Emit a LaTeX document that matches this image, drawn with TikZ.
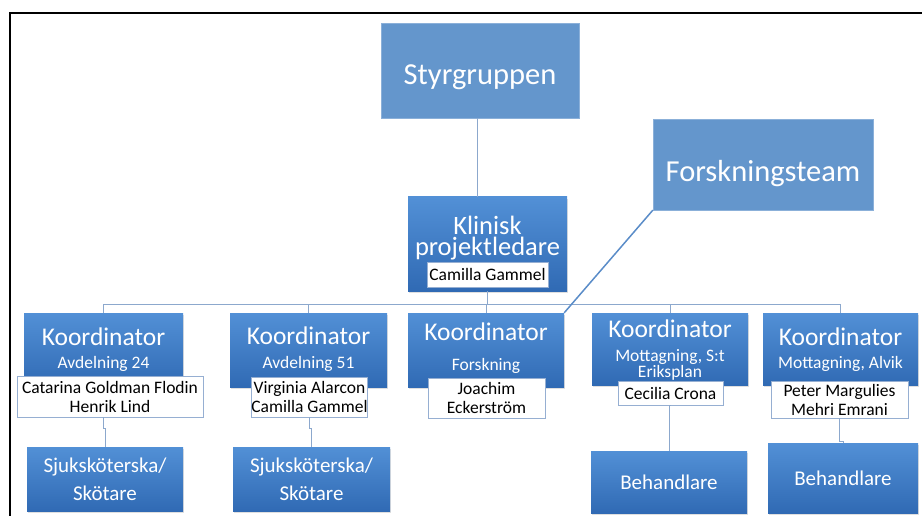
\documentclass[tikz,border=0pt]{standalone}
\usepackage{fontspec}
\setmainfont{Carlito}
\usetikzlibrary{positioning,calc,shadows}
\definecolor{flatblue}{RGB}{100,150,204}
\definecolor{ktop}{RGB}{82,144,214}
\definecolor{kbot}{RGB}{48,106,180}
\definecolor{linkgray}{RGB}{140,168,205}
\definecolor{namegray}{RGB}{150,175,210}
\definecolor{tailblue}{RGB}{90,140,200}

\begin{document}
\begin{tikzpicture}[x=1pt,y=-1pt,
  flatbox/.style={rectangle, fill=flatblue, draw=flatblue!75!white, text=white, align=center,
    text depth=0pt, font=\fontsize{30.5}{36}\selectfont},
  kbox/.style={rectangle, top color=ktop, bottom color=kbot, draw=none, text=white, align=center,
    minimum width=157pt, minimum height=74pt, inner sep=0pt,
    drop shadow={opacity=0.25, shadow xshift=1pt, shadow yshift=-2pt},
    font=\fontsize{25.5}{28}\selectfont},
  ktitle/.style={text=white, inner sep=0pt, anchor=base, font=\fontsize{25.5}{28}\selectfont},
  kdept/.style={text=white, inner sep=0pt, anchor=base, align=center, font=\fontsize{17.5}{16}\selectfont},
  namebox/.style={rectangle, fill=white, draw=namegray, line width=0.8pt, align=center, inner sep=0pt,
    font=\fontsize{17.5}{19}\selectfont},
  subbox/.style={kbox, minimum height=64pt, font=\fontsize{21}{28}\selectfont},
  link/.style={draw=linkgray, line width=1pt}
]
  \useasboundingbox (0,0) rectangle (922,516);
  % frame of the screenshot
  \draw[line width=1.7pt] (10,516) -- (10,13) -- (922,13);

  % top level
  \node[flatbox, minimum width=198pt, minimum height=95pt, text height=29pt] (SG) at (480,70.5) {Styrgruppen};
  \node[flatbox, minimum width=220pt, minimum height=91pt, text height=34pt] (FT) at (763,164.5) {Forskningsteam};
  \node[kbox, minimum width=159pt, minimum height=94pt] (KL) at (487.5,244) {};
  \node[text=white, align=center, inner sep=0pt, font=\fontsize{26.5}{21.5}\selectfont] (KLt) at (487.5,238) {Klinisk\\projektledare};
  \node[namebox, minimum width=121pt, minimum height=25pt] (KLn) at (487.5,274.5) {Camilla Gammel};

  % koordinators
  \node[kbox, minimum width=159pt] (K1) at (103.5,350) {};
  \node[kbox] (K2) at (308.5,350) {};
  \node[kbox, minimum width=156pt] (K3) at (486,350) {};
  \node[kbox, minimum width=156pt, minimum height=72pt] (K4) at (670,349) {};
  \node[kbox, minimum width=155pt, minimum height=72pt] (K5) at (840.5,349) {};

  \node[ktitle] (K1t) at (103.5,345) {Koordinator};
  \node[kdept] (K1d) at (103.5,368) {Avdelning 24};
  \node[ktitle] (K2t) at (308.5,344.5) {Koordinator};
  \node[kdept] (K2d) at (308.5,368.5) {Avdelning 51};
  \node[ktitle] (K3t) at (486,340.5) {Koordinator};
  \node[kdept] (K3d) at (486,370.5) {Forskning};
  \node[ktitle] (K4t) at (670,337) {Koordinator};
  \node[kdept] (K4d) at (670,377.5) {Mottagning, S:t\\Eriksplan};
  \node[ktitle] (K5t) at (840.5,345) {Koordinator};
  \node[kdept] (K5d) at (840.5,368.5) {Mottagning, Alvik};

  % names
  \node[namebox, minimum width=186pt, minimum height=41pt] (N1) at (110,396.5) {Catarina Goldman Flodin\\Henrik Lind};
  \node[namebox, minimum width=115pt, minimum height=40pt] (N2) at (309.5,397) {Virginia Alarcon\\Camilla Gammel};
  \node[namebox, minimum width=117pt, minimum height=40pt] (N3) at (486.5,398) {Joachim\\Eckerström};
  \node[namebox, minimum width=105pt, minimum height=24pt] (N4) at (670.5,393) {Cecilia Crona};
  \node[namebox, minimum width=137pt, minimum height=37pt] (N5) at (839.5,399.5) {Peter Margulies\\Mehri Emrani};

  % staff
  \node[subbox, minimum width=156pt] (S1) at (105,479) {Sjuksköterska/\\Skötare};
  \node[subbox] (S2) at (311.5,479) {Sjuksköterska/\\Skötare};
  \node[subbox, minimum width=156pt, minimum height=62pt] (B4) at (669,482) {Behandlare};
  \node[subbox, minimum width=150pt, minimum height=70pt] (B5) at (843,478) {Behandlare};

  % connectors
  \coordinate (bus) at (0,304);
  \draw[link] ([xshift=-3pt]SG.south) -- ([xshift=-3pt]SG.south |- KL.north);
  \draw[link] (KL.south) -- (KL.south |- bus);
  \draw[link] (K1.north |- bus) -- (K5.north |- bus);
  \foreach \k in {K1,K2,K3,K4,K5}
    \draw[link] (\k.north |- bus) -- (\k.north);
  \draw[link] (K1.center |- N1.south) -- ++(0,11) -| (S1.north);
  \draw[link] (N2.south) -- ++(0,11) -| (S2.north);
  \draw[link] (N4.south) -- (N4.south -| B4.north) -- (B4.north);
  \draw[link] (N5.south) -- ++(0,23) -| (B5.north);
  \draw[tailblue, line width=1.5pt] (FT.south west) -- (K3.north east);
\end{tikzpicture}
\end{document}
